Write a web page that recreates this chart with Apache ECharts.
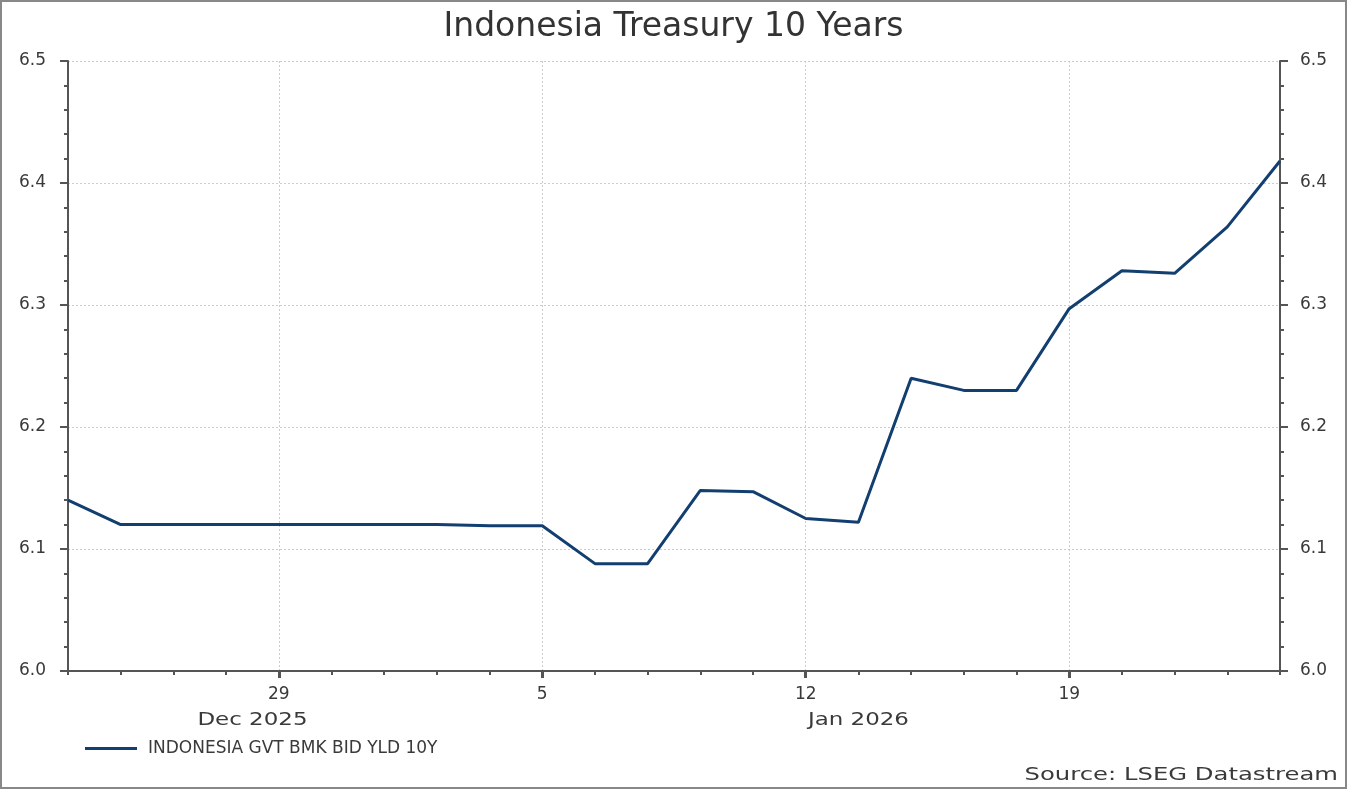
<!DOCTYPE html>
<html><head><meta charset="utf-8">
<script src="https://cdn.jsdelivr.net/npm/echarts@6/dist/echarts.min.js"></script>
<style>html,body{margin:0;padding:0;background:#fff}#c{width:1347px;height:789px}</style>
</head><body><div id="c"></div>
<script>
const dates = ['2025-12-23','2025-12-24','2025-12-25','2025-12-26','2025-12-29','2025-12-30','2025-12-31','2026-01-01','2026-01-02','2026-01-05','2026-01-06','2026-01-07','2026-01-08','2026-01-09','2026-01-12','2026-01-13','2026-01-14','2026-01-15','2026-01-16','2026-01-19','2026-01-20','2026-01-21','2026-01-22','2026-01-23'];
const yields = [6.14,6.12,6.12,6.12,6.12,6.12,6.12,6.12,6.119,6.119,6.088,6.088,6.148,6.147,6.125,6.122,6.24,6.23,6.23,6.297,6.328,6.326,6.364,6.418];
const seriesName = 'INDONESIA GVT BMK BID YLD 10Y';
const months = [{label:'Dec 2025', from:0, to:7},{label:'Jan 2026', from:7, to:23}];
const yMin = 6.0, yMax = 6.5, yStep = 0.1;

const isMonday = (i) => new Date(dates[i] + 'T00:00:00Z').getUTCDay() === 1;
const axisColor = '#555';
const font = 'DejaVu Sans, Verdana, sans-serif';

const chart = echarts.init(document.getElementById('c'));
const yAxisBase = {
  type:'value', min:yMin, max:yMax, interval:yStep,
  axisLine:{show:true, lineStyle:{color:axisColor, width:2}},
  axisTick:{show:true, length:8, lineStyle:{color:axisColor, width:2}},
  minorTick:{show:true, splitNumber:5, length:4, lineStyle:{color:axisColor, width:2}},
  axisLabel:{color:'#3a3a3a', fontSize:17, fontFamily:font, formatter:v=>v.toFixed(1)},
};
chart.setOption({
  animation:false,
  title:{text:'Indonesia Treasury 10 Years', left:'center', top:6,
    textStyle:{fontSize:33, fontWeight:'normal', color:'#333', fontFamily:font}},
  grid:{left:68, right:67, top:61, bottom:118, containLabel:false},
  legend:{show:true, left:80, top:735, itemWidth:52, itemHeight:3, itemGap:10,
    icon:'rect', textStyle:{fontSize:17, color:'#3a3a3a', fontFamily:font, padding:[0,0,0,6]}},
  xAxis:[{
    type:'category', data:dates, boundaryGap:false,
    axisLine:{show:true, lineStyle:{color:axisColor, width:2}},
    axisTick:{show:true, interval:0, length:4, lineStyle:{color:axisColor, width:2}},
    axisLabel:{show:false},
    splitLine:{show:false}
  },{
    type:'category', data:dates, boundaryGap:false, position:'bottom',
    axisLine:{show:false},
    axisTick:{show:true, interval:(i)=>isMonday(i), length:7, lineStyle:{color:axisColor, width:3}},
    axisLabel:{show:true, interval:(i)=>isMonday(i), color:'#3a3a3a', fontSize:17, fontFamily:font, margin:15,
      formatter:(v)=>String(Number(v.slice(8,10)))},
    splitLine:{show:true, interval:(i)=>isMonday(i), lineStyle:{color:'#ccc', type:[2,2], width:1}}
  }],
  yAxis:[Object.assign({}, yAxisBase, {position:'left', axisLabel:Object.assign({}, yAxisBase.axisLabel, {margin:22}),
      splitLine:{show:true, lineStyle:{color:'#ccc', type:[2,2], width:1}}}),
    Object.assign({}, yAxisBase, {position:'right', axisLabel:Object.assign({}, yAxisBase.axisLabel, {margin:20}), splitLine:{show:false}})],
  series:[{
    name:seriesName, type:'line', data:yields, xAxisIndex:0, yAxisIndex:0,
    showSymbol:false, symbol:'none', lineStyle:{color:'#123f70', width:3}, itemStyle:{color:'#123f70'}
  }]
});
const g = [{type:'rect', shape:{x:1, y:1, width:1345, height:787}, style:{fill:'none', stroke:'#888', lineWidth:2}, silent:true, z:-1}];
months.forEach(m => {
  const x0 = chart.convertToPixel({xAxisIndex:0}, m.from);
  const x1 = chart.convertToPixel({xAxisIndex:0}, m.to);
  g.push({type:'text', x:(x0+x1)/2, y:721, scaleX:1.35, style:{text:m.label, fill:'#3a3a3a', font:'17px ' + font, align:'center', verticalAlign:'middle'}});
});
g.push({type:'text', x:1338, y:775, scaleX:1.35, style:{text:'Source: LSEG Datastream', fill:'#3a3a3a', font:'18px ' + font, align:'right', verticalAlign:'middle'}});
chart.setOption({graphic:g});
</script></body></html>
